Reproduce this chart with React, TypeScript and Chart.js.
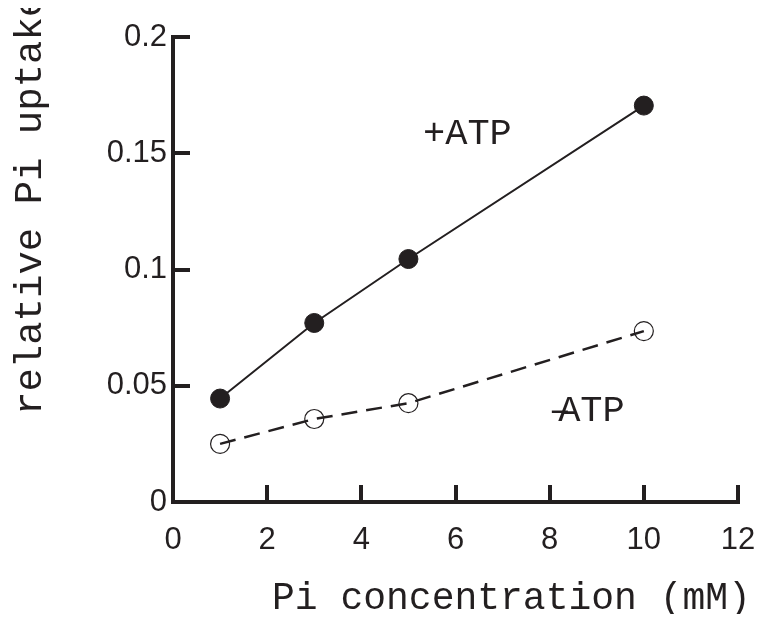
import React, { useEffect, useRef } from "react";
import { Chart, registerables } from "chart.js";

Chart.register(...registerables);

const concentrations = [1, 3, 5, 10];
const withATP = [0.0445, 0.077, 0.1045, 0.1705];
const withoutATP = [0.025, 0.0357, 0.0425, 0.0735];
const xTicks = [0, 2, 4, 6, 8, 10, 12];
const yTicks = [0, 0.05, 0.1, 0.15, 0.2];
const yTickLabels = ["0", "0.05", "0.1", "0.15", "0.2"];
const xTitle = "Pi concentration (mM)";
const yTitle = "relative Pi uptake";
const plusLabel = { text: "+ATP", x: 5.31, y: 0.154 };
const minusLabel = { text: "ATP", dash: "\u2013", x: 8.18, y: 0.0348, dashX: 7.98 };

const INK = "#231f20";
const MONO = "'Liberation Mono', 'Courier New', monospace";
const SANS = "'Liberation Sans', Arial, sans-serif";

const textPlugin = {
  id: "textPlugin",
  afterDraw(chart: any) {
    const { ctx, scales } = chart;
    const xs = scales.x;
    const ys = scales.y;
    ctx.save();
    ctx.fillStyle = INK;
    ctx.font = `37px ${MONO}`;
    ctx.textAlign = "left";
    ctx.textBaseline = "alphabetic";
    ctx.fillText(plusLabel.text, xs.getPixelForValue(plusLabel.x), ys.getPixelForValue(plusLabel.y));
    ctx.fillText(minusLabel.text, xs.getPixelForValue(minusLabel.x), ys.getPixelForValue(minusLabel.y));
    ctx.fillText(minusLabel.dash, xs.getPixelForValue(minusLabel.dashX), ys.getPixelForValue(minusLabel.y));
    // x title
    ctx.font = `38px ${MONO}`;
    ctx.fillText(xTitle, 264, 601);
    // y title
    ctx.font = `39px ${MONO}`;
    ctx.translate(33, 407);
    ctx.rotate(-Math.PI / 2);
    ctx.fillText(yTitle, 0, 0);
    ctx.restore();
  },
};

export default function App() {
  const ref = useRef<HTMLCanvasElement | null>(null);
  useEffect(() => {
    if (!ref.current) return;
    const chart = new Chart(ref.current, {
      type: "line",
      data: {
        datasets: [
          {
            label: "+ATP",
            data: concentrations.map((x, i) => ({ x, y: withATP[i] })),
            borderColor: INK,
            borderWidth: 2,
            backgroundColor: INK,
            pointBackgroundColor: INK,
            pointBorderColor: INK,
            pointRadius: 9.5,
            pointBorderWidth: 1,
            fill: false,
            tension: 0,
          },
          {
            label: "-ATP",
            data: concentrations.map((x, i) => ({ x, y: withoutATP[i] })),
            borderColor: INK,
            borderWidth: 2.5,
            borderDash: [16, 9],
            backgroundColor: "rgba(0,0,0,0)",
            pointBackgroundColor: "rgba(0,0,0,0)",
            pointBorderColor: INK,
            pointRadius: 9.5,
            pointBorderWidth: 1.2,
            fill: false,
            tension: 0,
          },
        ],
      },
      options: {
        animation: false,
        responsive: false,
        layout: { padding: { top: 29, right: 19, left: 0, bottom: 0 } },
        plugins: { legend: { display: false }, tooltip: { enabled: false } },
        scales: {
          x: {
            type: "linear",
            min: 0,
            max: 12,
            afterBuildTicks: (s: any) => {
              s.ticks = xTicks.map((v) => ({ value: v }));
            },
            afterFit: (s: any) => {
              s.height = 112;
              s.paddingLeft = 0;
              s.paddingRight = 0;
            },
            border: { display: true, color: INK, width: 4 },
            grid: { drawOnChartArea: false, drawTicks: true, tickLength: -17, color: INK, lineWidth: 4 },
            ticks: { color: INK, font: { family: SANS, size: 31 }, padding: 37, maxRotation: 0 },
          },
          y: {
            type: "linear",
            min: 0,
            max: 0.2,
            afterBuildTicks: (s: any) => {
              s.ticks = yTicks.map((v) => ({ value: v }));
            },
            afterFit: (s: any) => {
              s.width = 165;
              s.paddingTop = 0;
              s.paddingBottom = 0;
            },
            border: { display: true, color: INK, width: 4 },
            grid: { drawOnChartArea: false, drawTicks: true, tickLength: -17, color: INK, lineWidth: 4 },
            ticks: {
              color: INK,
              font: { family: SANS, size: 31 },
              padding: 23,
              callback: (v: any) => {
                const i = yTicks.findIndex((t) => Math.abs(t - Number(v)) < 1e-9);
                return i >= 0 ? yTickLabels[i] : "";
              },
            },
          },
        },
      },
      plugins: [textPlugin],
    } as any);
    return () => chart.destroy();
  }, []);
  return (
    <div style={{ width: 749, height: 606 }}>
      <canvas ref={ref} width={749} height={606} style={{ display: "block" }} />
    </div>
  );
}
